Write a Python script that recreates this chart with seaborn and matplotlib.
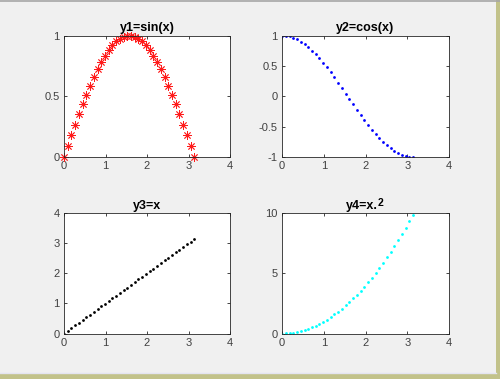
import matplotlib
matplotlib.use("Agg")
import matplotlib.pyplot as plt
import seaborn as sns
from matplotlib.patches import Rectangle
from matplotlib.lines import Line2D

# ---- data ----
x = [0.0, 0.090, 0.180, 0.269, 0.359, 0.449, 0.539, 0.628, 0.718, 0.808,
     0.898, 0.987, 1.077, 1.167, 1.257, 1.346, 1.436, 1.526, 1.616, 1.705,
     1.795, 1.885, 1.975, 2.064, 2.154, 2.244, 2.334, 2.424, 2.513, 2.603,
     2.693, 2.783, 2.872, 2.962, 3.052, 3.142]
y1 = [0.0, 0.0896, 0.1786, 0.2660, 0.3514, 0.4339, 0.5129, 0.5878, 0.6579, 0.7227,
      0.7818, 0.8346, 0.8807, 0.9197, 0.9511, 0.9749, 0.9910, 0.9990, 0.9990, 0.9910,
      0.9749, 0.9511, 0.9197, 0.8807, 0.8346, 0.7818, 0.7227, 0.6579, 0.5878, 0.5129,
      0.4339, 0.3514, 0.2660, 0.1786, 0.0896, 0.0]
y2 = [1.0, 0.9960, 0.9839, 0.9639, 0.9363, 0.9010, 0.8584, 0.8090, 0.7530, 0.6910,
      0.6235, 0.5508, 0.4739, 0.3930, 0.3090, 0.2225, 0.1341, 0.0448, -0.0448, -0.1341,
      -0.2225, -0.3090, -0.3930, -0.4739, -0.5508, -0.6235, -0.6910, -0.7530, -0.8090, -0.8584,
      -0.9010, -0.9363, -0.9639, -0.9839, -0.9960, -1.0]
y3 = [0.0, 0.090, 0.180, 0.269, 0.359, 0.449, 0.539, 0.628, 0.718, 0.808,
      0.898, 0.987, 1.077, 1.167, 1.257, 1.346, 1.436, 1.526, 1.616, 1.705,
      1.795, 1.885, 1.975, 2.064, 2.154, 2.244, 2.334, 2.424, 2.513, 2.603,
      2.693, 2.783, 2.872, 2.962, 3.052, 3.142]
y4 = [0.0, 0.0081, 0.0322, 0.0725, 0.1289, 0.2014, 0.2900, 0.3948, 0.5156, 0.6526,
      0.8057, 0.9749, 1.1602, 1.3616, 1.5791, 1.8128, 2.0626, 2.3284, 2.6104, 2.9085,
      3.2227, 3.5531, 3.8995, 4.2621, 4.6407, 5.0355, 5.4464, 5.8734, 6.3166, 6.7758,
      7.2512, 7.7426, 8.2502, 8.7739, 9.3137, 9.8696]

titles = ["y1=sin(x)", "y2=cos(x)", "y3=x", "y4=x."]
title4_sup = "2"
xticks = [0, 1, 2, 3, 4]
yticks1 = [0, 0.5, 1]
yticks2 = [-1, -0.5, 0, 0.5, 1]
yticks3 = [0, 1, 2, 3, 4]
yticks4 = [0, 5, 10]

plt.rcParams["font.family"] = ["Liberation Sans", "DejaVu Sans"]

fig = plt.figure(figsize=(5.0, 3.79), dpi=100, facecolor="#f0f0f0")

W, H = 500.0, 379.0
def axbox(l, r, t, b):
    return [l / W, 1 - b / H, (r - l) / W, (b - t) / H]

ax1 = fig.add_axes(axbox(64, 230, 35.5, 157))
ax2 = fig.add_axes(axbox(282, 449, 35.5, 157))
ax3 = fig.add_axes(axbox(64, 230, 213, 333.5))
ax4 = fig.add_axes(axbox(282, 449, 213, 333.5))

dot_kw = dict(linestyle="", marker="o", markersize=2.0, markeredgewidth=0)

sns.lineplot(x=x, y=y1, ax=ax1, linestyle="", marker=(8, 2, 0), markersize=6.0,
             color="#ff0000", markeredgecolor="#ff1a1a", markeredgewidth=0.6,
             clip_on=False)
sns.lineplot(x=x, y=y2, ax=ax2, color="#0000ff", markerfacecolor="#0000ff", **dot_kw)
sns.lineplot(x=x, y=y3, ax=ax3, color="#000000", markerfacecolor="#000000", **dot_kw)
sns.lineplot(x=x, y=y4, ax=ax4, color="#00ffff", markerfacecolor="#00ffff", **dot_kw)

specs = [(ax1, yticks1, titles[0], (0, 1)),
         (ax2, yticks2, titles[1], (-1, 1)),
         (ax3, yticks3, titles[2], (0, 4)),
         (ax4, yticks4, titles[3], (0, 10))]
title_objs = []
for ax, yt, title, ylim in specs:
    ax.set_facecolor("white")
    ax.set_xlim(0, 4)
    ax.set_ylim(*ylim)
    ax.set_xticks(xticks)
    ax.set_yticks(yt)
    ax.set_xticklabels([str(v) for v in xticks])
    ax.set_yticklabels([("%g" % v) for v in yt])
    ax.tick_params(direction="in", length=2.5, width=0.6, colors="#262626",
                   labelcolor="#404040", labelsize=8, top=True, right=True, pad=3)
    for s in ax.spines.values():
        s.set_color("#262626")
        s.set_linewidth(0.6)
    t = ax.set_title(title, fontsize=9, fontweight="bold", color="black", pad=3)
    title_objs.append(t)
    ax.set_xlabel("")
    ax.set_ylabel("")

# fourth title: shift left a little so title + superscript is centred
title_objs[3].set_x(0.48)
fig.canvas.draw()
ax4.annotate(title4_sup, xy=(1, 1), xycoords=title_objs[3],
             xytext=(-0.5, -2.5), textcoords="offset points",
             ha="left", va="center", fontsize=7.5, fontweight="bold", color="black")

# frame decoration of the screenshot
fig.add_artist(Line2D([0, 1], [1 - 0.5 / H, 1 - 0.5 / H], color="#a6a6a6", lw=1.2))
fig.add_artist(Rectangle((496 / W, 0), 4 / W, 1, transform=fig.transFigure,
                         facecolor="#c2c28a", edgecolor="none"))
fig.add_artist(Rectangle((0, 0), 1, 5 / H, transform=fig.transFigure,
                         facecolor="#c2c28a", edgecolor="none"))
fig.add_artist(Line2D([0, 496 / W], [6 / H, 6 / H], color="#e4e4f0", lw=1.0))

fig.savefig("out.png", dpi=100, facecolor=fig.get_facecolor())
